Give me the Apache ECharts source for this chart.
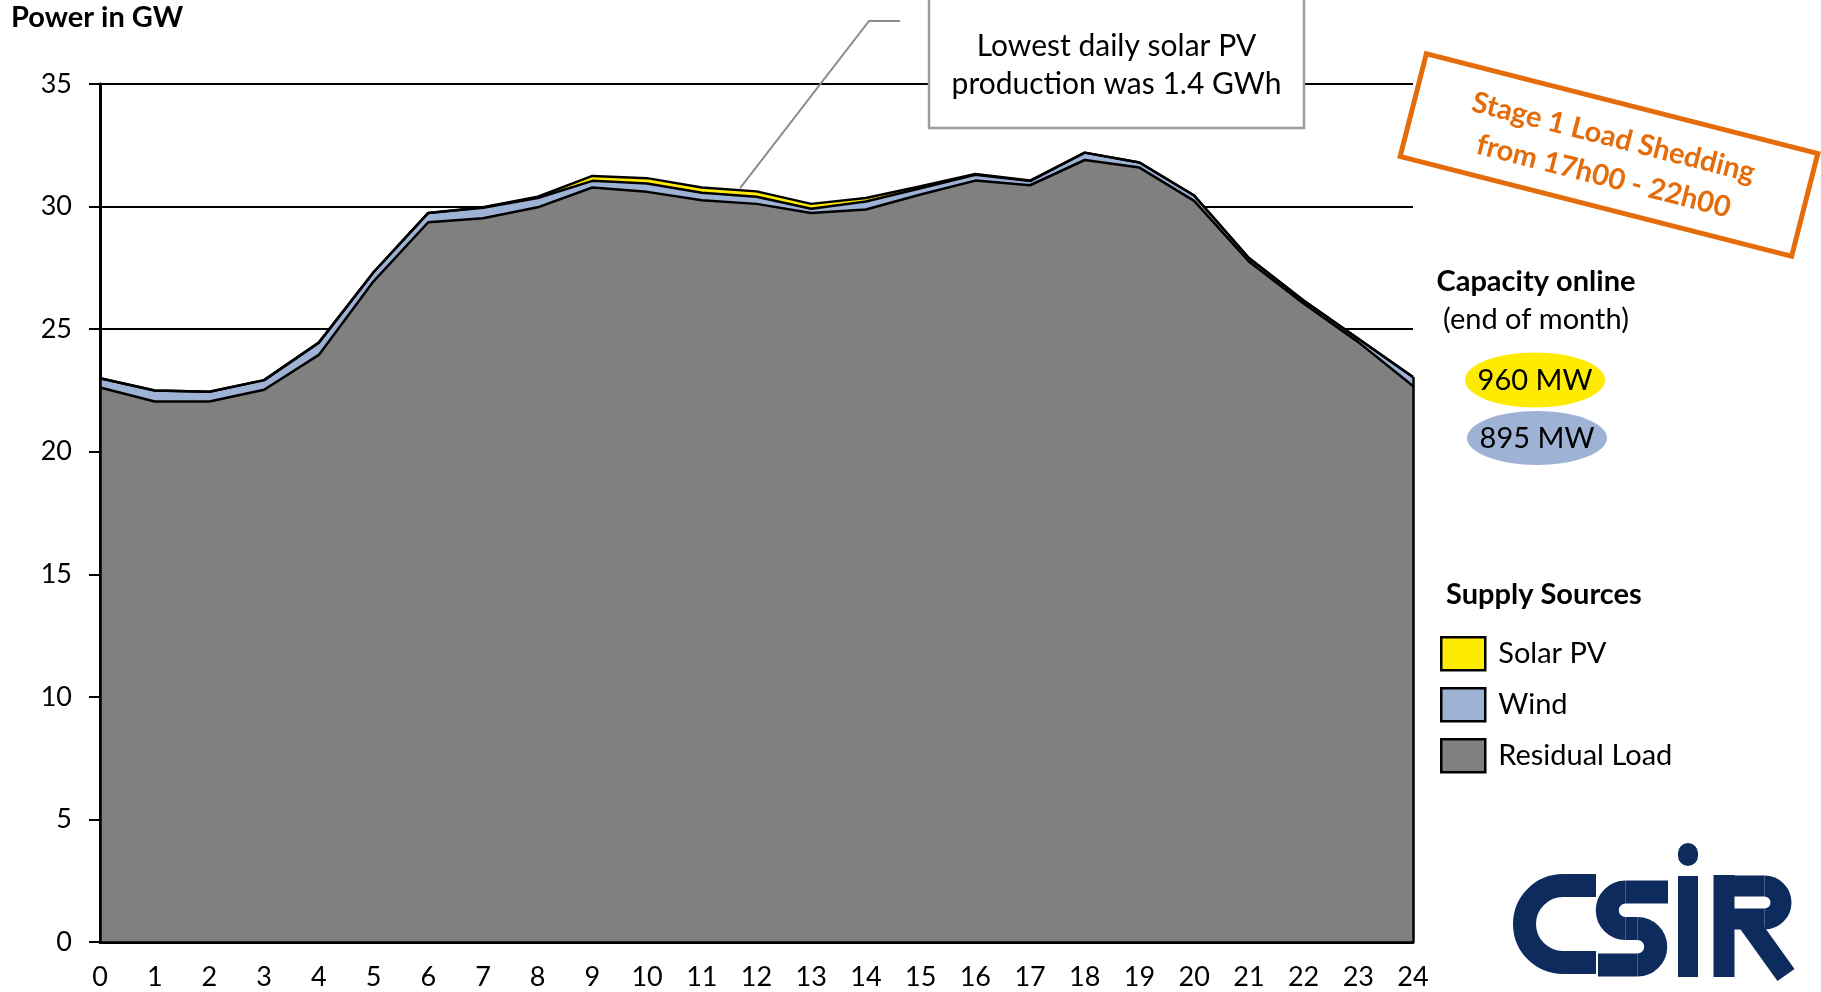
<!DOCTYPE html>
<html>
<head>
<meta charset="utf-8">
<title>Power in GW</title>
<script src="https://cdn.jsdelivr.net/npm/echarts@6/dist/echarts.min.js"></script>
<style>
  html, body { margin: 0; padding: 0; background: #ffffff; }
  #chart { width: 1821px; height: 992px; }
</style>
</head>
<body>
<div id="chart"></div>
<script>
// Hour of day (x axis categories)
const hours = ['0', '1', '2', '3', '4', '5', '6', '7', '8', '9', '10', '11', '12',
               '13', '14', '15', '16', '17', '18', '19', '20', '21', '22', '23', '24'];

// Supply sources in GW, stacked from the bottom up
const residualLoad = [22.62, 22.05, 22.05, 22.53, 23.95, 26.95, 29.36, 29.52, 29.97, 30.78, 30.60, 30.26, 30.11,
                      29.74, 29.88, 30.49, 31.06, 30.87, 31.90, 31.59, 30.23, 27.76, 26.05, 24.47, 22.68];
const wind         = [0.38, 0.45, 0.40, 0.39, 0.50, 0.37, 0.38, 0.43, 0.38, 0.27, 0.34, 0.30, 0.29,
                      0.17, 0.33, 0.26, 0.24, 0.17, 0.30, 0.21, 0.22, 0.14, 0.12, 0.14, 0.37];
const solarPV      = [0, 0, 0, 0, 0, 0, 0, 0.02, 0.05, 0.20, 0.22, 0.22, 0.22,
                      0.20, 0.14, 0.08, 0.03, 0.02, 0, 0, 0, 0, 0, 0, 0];

const seriesNames = ['Residual Load', 'Wind', 'Solar PV'];
const seriesValues = [residualLoad, wind, solarPV];
const seriesColors = ['#808080', '#9DB2D4', '#FFEB00'];

// Capacity online (end of month)
const capacityLabels = ['960 MW', '895 MW'];

// Y axis range
const yMin = 0, yMax = 35, yStep = 5;

// Annotation texts
const noteLines = ['Lowest daily solar PV', 'production was 1.4 GWh'];
const noteHour = 11.7;
const sheddingLines = ['Stage 1 Load Shedding', 'from 17h00 - 22h00'];

const FONT = 'Lato, "Open Sans", "Noto Sans", sans-serif';
const ORANGE = '#E46C0A';
const NAVY = '#0D2B5C';

const totals = hours.map((h, i) => residualLoad[i] + wind[i] + solarPV[i]);
const lastIdx = hours.length - 1;

// Filled layers (no outline) and black outlines drawn on top of all fills
const areaSeries = seriesNames.map((name, k) => ({
  name: name,
  type: 'line',
  stack: 'fill',
  z: 2,
  symbol: 'none',
  silent: true,
  itemStyle: { color: seriesColors[k] },
  lineStyle: { width: 0 },
  areaStyle: { color: seriesColors[k], opacity: 1 },
  data: seriesValues[k]
}));

const outlineSeries = seriesNames.map((name, k) => ({
  name: name,
  type: 'line',
  stack: 'outline',
  z: 3,
  symbol: 'none',
  silent: true,
  lineStyle: { color: '#000', width: 2.5 },
  data: seriesValues[k],
  markLine: k === seriesNames.length - 1 ? {
    silent: true,
    symbol: 'none',
    label: { show: false },
    lineStyle: { color: '#000', width: 2.5, type: 'solid' },
    data: [
      [{ coord: [0, 0] }, { coord: [0, totals[0]] }],
      [{ coord: [lastIdx, 0] }, { coord: [lastIdx, totals[lastIdx]] }],
      [{ coord: [0, 0] }, { coord: [lastIdx, 0] }]
    ]
  } : undefined
}));

function txt(x, y, text, size, weight, color, align) {
  return {
    type: 'text', x: x, y: y, z: 20,
    style: {
      text: text, fill: color || '#000',
      font: (weight || 'normal') + ' ' + size + 'px ' + FONT,
      align: align || 'center', verticalAlign: 'middle',
      textAlign: align || 'center', textVerticalAlign: 'middle'
    }
  };
}

function stroke(shapeType, shape, width, cap) {
  return {
    type: shapeType, shape: shape, z: 20,
    style: { fill: 'none', stroke: NAVY, lineWidth: width, lineCap: cap || 'butt' }
  };
}

// CSIR logo built from strokes
const W = 23;
const logo = {
  type: 'group', x: 0, y: 0, children: [
    // C
    stroke('line', { x1: 1563, y1: 885.5, x2: 1596, y2: 885.5 }, W),
    stroke('arc', { cx: 1563, cy: 924, r: 38.5, startAngle: Math.PI / 2, endAngle: Math.PI * 1.5, clockwise: true }, W),
    stroke('line', { x1: 1563, y1: 962.5, x2: 1596, y2: 962.5 }, W),
    // S
    stroke('line', { x1: 1625.5, y1: 892, x2: 1668, y2: 892 }, W),
    stroke('arc', { cx: 1625.5, cy: 910.25, r: 18.25, startAngle: -Math.PI / 2, endAngle: Math.PI / 2, clockwise: false }, W),
    stroke('line', { x1: 1625.5, y1: 928.5, x2: 1637.5, y2: 928.5 }, W),
    stroke('arc', { cx: 1637.5, cy: 946.75, r: 18.25, startAngle: -Math.PI / 2, endAngle: Math.PI / 2, clockwise: true }, W),
    stroke('line', { x1: 1598, y1: 965, x2: 1637.5, y2: 965 }, W),
    // i
    stroke('line', { x1: 1688, y1: 876, x2: 1688, y2: 977 }, 20),
    stroke('line', { x1: 1688, y1: 853, x2: 1688, y2: 856 }, 20, 'round'),
    // R
    stroke('line', { x1: 1724, y1: 875, x2: 1724, y2: 977 }, 21),
    stroke('line', { x1: 1714, y1: 886, x2: 1764.5, y2: 886 }, 21),
    stroke('arc', { cx: 1764.5, cy: 902.5, r: 16.5, startAngle: -Math.PI / 2, endAngle: Math.PI / 2, clockwise: true }, 21),
    stroke('line', { x1: 1724, y1: 919, x2: 1764.5, y2: 919 }, 21),
    stroke('line', { x1: 1748, y1: 922, x2: 1786, y2: 975 }, 21)
  ]
};

const chart = echarts.init(document.getElementById('chart'), null, { renderer: 'canvas' });

const option = {
  animation: false,
  backgroundColor: '#ffffff',
  textStyle: { fontFamily: FONT },
  title: {
    text: 'Power in GW',
    left: 11, top: 3, padding: 0,
    textStyle: { fontFamily: FONT, fontWeight: 'bold', fontSize: 29, color: '#000' }
  },
  grid: { left: 100, right: 408, top: 84, bottom: 50, containLabel: false },
  xAxis: {
    type: 'category', data: hours, boundaryGap: false,
    axisLine: { show: true, lineStyle: { color: '#000', width: 3 } },
    axisTick: { show: false },
    splitLine: { show: false },
    axisLabel: { color: '#000', fontSize: 27, fontFamily: FONT, margin: 22, interval: 0 }
  },
  yAxis: {
    type: 'value', min: yMin, max: yMax, interval: yStep,
    axisLine: { show: true, lineStyle: { color: '#000', width: 3 } },
    axisTick: { show: true, inside: false, length: 11, lineStyle: { color: '#000', width: 2 } },
    splitLine: { show: true, lineStyle: { color: '#000', width: 2 } },
    axisLabel: { color: '#000', fontSize: 27, fontFamily: FONT, margin: 28 }
  },
  legend: {
    orient: 'vertical',
    left: 1440, top: 636,
    padding: 0,
    itemWidth: 44, itemHeight: 33, itemGap: 15.5,
    selectedMode: false,
    textStyle: { color: '#000', fontSize: 29, fontFamily: FONT, padding: [0, 0, 0, 8] },
    data: ['Solar PV', 'Wind', 'Residual Load'].map(n => ({
      name: n, icon: 'rect',
      itemStyle: { color: seriesColors[seriesNames.indexOf(n)], borderColor: '#000', borderWidth: 2.5 }
    }))
  },
  series: areaSeries.concat(outlineSeries),
  graphic: []
};

chart.setOption(option);

// Annotation anchored to the top of the stack
const i0 = Math.floor(noteHour), f = noteHour - i0;
const pA = chart.convertToPixel({ gridIndex: 0 }, [i0, totals[i0]]);
const pB = chart.convertToPixel({ gridIndex: 0 }, [i0 + 1, totals[i0 + 1]]);
const anchor = [pA[0] + (pB[0] - pA[0]) * f, pA[1] + (pB[1] - pA[1]) * f];

chart.setOption({
  graphic: [
    // callout box
    { type: 'rect', z: 10, shape: { x: 929, y: -2, width: 375, height: 130 },
      style: { fill: '#fff', stroke: '#9C9C9C', lineWidth: 2.5 } },
    txt(1116.5, 46, noteLines[0], 30),
    txt(1116.5, 84, noteLines[1], 30),
    { type: 'polyline', z: 10, shape: { points: [[900, 21], [869, 21], [anchor[0], anchor[1] - 2]] },
      style: { fill: 'none', stroke: '#8C8C8C', lineWidth: 2 } },

    // load shedding stamp
    { type: 'group', x: 1609, y: 155, rotation: -14.3 * Math.PI / 180, z: 10, children: [
      { type: 'rect', shape: { x: -202, y: -53, width: 404, height: 106 },
        style: { fill: '#fff', stroke: ORANGE, lineWidth: 5 } },
      txt(0, -18, sheddingLines[0], 29, 'bold', ORANGE),
      txt(0, 22, sheddingLines[1], 29, 'bold', ORANGE)
    ] },

    // capacity online
    txt(1536, 282, 'Capacity online', 29, 'bold'),
    txt(1536, 320, '(end of month)', 29),
    { type: 'circle', x: 1535, y: 380, scaleY: 27.5 / 70, z: 10, shape: { cx: 0, cy: 0, r: 70 },
      style: { fill: seriesColors[2] } },
    txt(1535, 381, capacityLabels[0], 29),
    { type: 'circle', x: 1537, y: 438, scaleY: 27 / 70, z: 10, shape: { cx: 0, cy: 0, r: 70 },
      style: { fill: seriesColors[1] } },
    txt(1537, 439, capacityLabels[1], 29),

    // legend heading
    txt(1446, 595, 'Supply Sources', 29, 'bold', '#000', 'left'),

    logo
  ]
});
</script>
</body>
</html>
